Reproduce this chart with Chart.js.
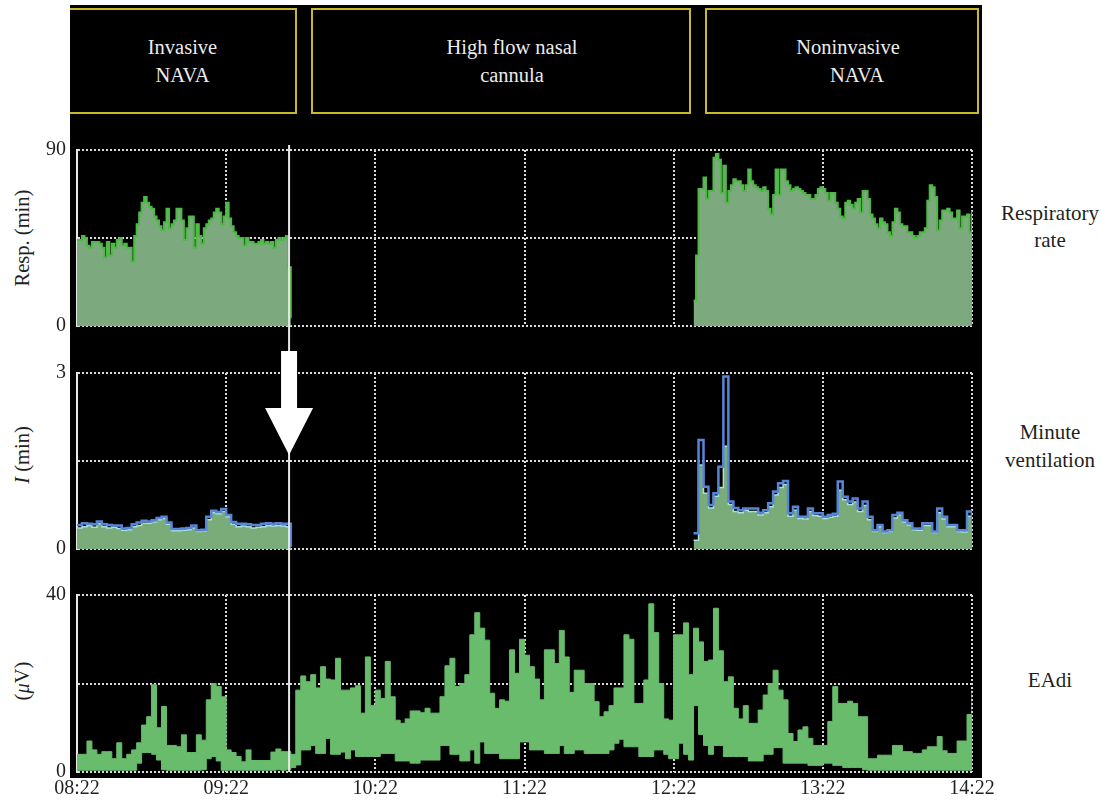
<!DOCTYPE html>
<html>
<head>
<meta charset="utf-8">
<script src="https://cdn.jsdelivr.net/npm/chart.js@4.4.1/dist/chart.umd.min.js"></script>
<style>
html,body{margin:0;padding:0;background:#fff;}
#wrap{position:relative;width:1102px;height:800px;overflow:hidden;font-family:'Liberation Serif','DejaVu Serif',serif;color:#231f20;}
#bg{position:absolute;left:70px;top:5px;width:912px;height:773px;background:#000;}
.box{position:absolute;top:8px;height:106px;box-sizing:border-box;border:2px solid #c9b829;color:#ececec;font-size:20.5px;line-height:28px;text-align:center;display:flex;flex-direction:column;justify-content:center;}
canvas{position:absolute;left:0;top:0;}
.side{position:absolute;font-size:21px;text-align:center;white-space:nowrap;transform:translate(-50%,-50%);}
.ytitle{position:absolute;font-size:20.5px;white-space:nowrap;transform:translate(-50%,-50%) rotate(-90deg);}
</style>
</head>
<body>
<div id="wrap">
  <div id="bg"></div>
  <div class="box" style="left:70px;width:227px;border-left:none;"><div>Invasive</div><div>NAVA</div></div>
  <div class="box" style="left:311px;width:380px;padding-left:22px;"><div>High flow nasal</div><div>cannula</div></div>
  <div class="box" style="left:705px;width:274px;padding-left:12px;"><div>Noninvasive</div><div style="padding-left:18px;">NAVA</div></div>

  <div class="ytitle" style="left:22px;top:238px;">Resp. (min)</div>
  <div class="ytitle" style="left:22px;top:455px;"><i>I</i> (min)</div>
  <div class="ytitle" style="left:22px;top:681px;">(<i>μ</i>V)</div>

  <div class="side" style="left:1050px;top:227px;line-height:27px;">Respiratory<br>rate</div>
  <div class="side" style="left:1050px;top:446px;line-height:28px;">Minute<br>ventilation</div>
  <div class="side" style="left:1050px;top:680px;">EAdi</div>

  <canvas id="c1" width="1102" height="800"></canvas>
  <canvas id="c2" width="1102" height="800"></canvas>
  <canvas id="c3" width="1102" height="800"></canvas>
</div>
<script>
// ---- time axis (minutes after 08:22) ----
const timeTickLabels = ['08:22','09:22','10:22','11:22','12:22','13:22','14:22'];
const extubationMin = 85.3;

// ---- Respiratory rate (1/min), 1-min samples ----
const rrInvStart = 0, rrInvStep = 1;
const rrInvasive = [44,44,46,45,41,40,43,43,43,42, 40,35,43,36,42,40,44,45,41,42,
  40,40,33,46,52,58,63,66,63,61, 60,56,54,51,49,53,60,50,52,54,
  60,60,54,44,50,56,56,40,52,46, 42,50,52,54,55,58,60,58,52,56,
  63,55,51,48,46,45,45,41,45,43, 43,42,42,43,44,42,43,42,43,40,
  44,45,44,45,46,30,4];
const rrNivStart = 248, rrNivStep = 1;
const rrNoninvasive = [13,36,70,70,76,65,69,69,86,88, 85,68,82,63,69,72,75,74,74,72,
  69,72,80,74,72,71,70,69,71,69, 60,57,67,80,67,80,80,74,72,69,
  70,71,70,69,68,67,67,65,65,67, 70,71,70,68,64,68,68,63,60,56,
  55,63,64,62,60,63,65,58,69,69, 65,57,55,52,50,55,53,52,48,46,
  53,60,58,52,51,51,48,48,46,45, 46,48,48,50,64,72,71,66,49,54,
  59,59,60,58,55,55,59,50,56,56, 57,48,59];

// ---- Minute ventilation (L/min), 2-min samples ----
const mvStep = 2;
const mvInvStart = 0;
const mvInvasiveBlue = [0.41,0.44,0.43,0.42,0.47,0.42,0.41,0.40,0.40,0.35,
  0.36,0.42,0.45,0.48,0.47,0.49,0.53,0.55,0.45,0.34,
  0.34,0.35,0.36,0.40,0.32,0.33,0.55,0.65,0.63,0.68,
  0.58,0.46,0.43,0.43,0.42,0.41,0.41,0.43,0.44,0.43,
  0.44,0.43,0.43,0.04];
const mvInvasiveCyan = [0.36,0.38,0.40,0.37,0.43,0.38,0.36,0.37,0.35,0.32,
  0.33,0.38,0.40,0.44,0.44,0.46,0.50,0.52,0.42,0.31,
  0.31,0.32,0.33,0.36,0.30,0.31,0.50,0.62,0.60,0.64,
  0.55,0.42,0.38,0.39,0.38,0.36,0.37,0.38,0.40,0.39,
  0.40,0.39,0.38,0.36];
const mvNivStart = 248;
const mvNoninvasiveBlue = [0.27,1.86,1.06,0.75,0.95,1.40,2.94,0.81,0.70,0.66,
  0.69,0.69,0.69,0.62,0.66,0.78,0.98,1.12,1.16,0.61,
  0.72,0.55,0.55,0.69,0.61,0.61,0.55,0.58,0.60,1.15,
  0.89,0.81,0.86,0.69,0.81,0.55,0.32,0.41,0.30,0.32,
  0.58,0.62,0.49,0.44,0.35,0.35,0.44,0.44,0.30,0.69,
  0.55,0.41,0.41,0.32,0.32,0.64,0.41];
const mvNoninvasiveCyan = [0.15,1.43,0.95,0.70,0.90,1.05,1.75,0.76,0.64,0.62,
  0.66,0.64,0.64,0.58,0.62,0.72,0.92,1.05,1.10,0.56,
  0.66,0.52,0.51,0.64,0.57,0.56,0.52,0.54,0.56,1.00,
  0.84,0.76,0.80,0.64,0.74,0.50,0.30,0.38,0.28,0.30,
  0.53,0.58,0.46,0.41,0.33,0.32,0.40,0.40,0.28,0.62,
  0.51,0.38,0.38,0.30,0.29,0.56,0.38];

// ---- EAdi (µV), 2-min max / min envelopes ----
const eadiStart = 0, eadiStep = 2;
const eadiUpper = [4,4,7,5,4,4.6,4.6,3,6.6,3,
  4,5,6.6,10.6,12.5,19.7,10,14.8,6,6,
  5.7,8.4,4.4,4.4,8.4,7.2,16.3,20,19.3,17,
  5,4.4,3.5,2.3,5,2.6,2.6,2.6,2.6,4.5,
  5.2,4.6,4.6,4,18.5,21.7,20.4,22,19,23.8,
  21,20.8,25.7,18.5,18.5,19,19.5,13.3,26,15,
  18.5,16.6,25,17,11.7,11,12,13.8,13.8,13.4,
  14.4,13.3,13.3,17,24,25.7,19.3,20,22,31,
  36,32.5,29.8,17.8,14.4,16.3,16,27.6,22.3,30,
  26.4,23.8,21,16.3,27.6,27.6,24.5,32,26,18,
  23,23,20,20,15.9,12.5,13.6,15,19,19,
  31,30,15.5,15.5,20.8,38,31.5,20,12,11.7,
  31,31,33.7,22,32.5,29.4,25,25.3,37,27.4,
  20.4,21.5,14.4,12,15,11,11,14,17.4,20,
  23,18.5,16.3,8.7,6.9,9.5,10.2,7.6,6,6,
  6,11.4,19.3,15.5,15.5,16,15.5,12.5,12.5,3,
  3,3.8,3.8,3.8,6,6,4.6,4.6,4.2,4.2,
  5,5.7,5.7,8,4.8,4.2,4.2,7,7,13,18.5];
const eadiLower = [0.4,0.4,0.4,0.4,0.4,0.4,0.4,0.4,0.4,0.4,
  0.4,0.4,2,4.4,4.4,4,2.7,0.5,0.4,0.4,
  0.4,0.4,0.4,0.4,0.4,0.5,3,3.5,2.5,0.4,
  0.4,0.4,0.4,0.4,0.4,0.4,0.4,0.4,0.4,0.4,
  0.5,0.4,0.5,1,1.6,5,5,6,4.2,4.2,
  7.6,4,4,4.5,3,5,3.5,3.5,3.5,3.5,
  3.5,4.2,4.2,4.2,2.5,2.5,2.5,2,2,2.7,
  2.7,2.7,2.7,6,6,4,4,2.5,2.5,5,
  2,6.8,4.2,4.2,4.2,3,3,3,3,6.8,
  6.8,5,5,5,4.2,4.2,4.2,6,4.2,4.2,
  5,5,4.2,4.2,4.2,4.2,4.2,5,6.5,7.4,
  5.7,5.7,5.7,3.5,3.5,3.5,5,5,4,3,
  3,6.5,4,2.7,15,8.5,6,4,6,6,
  3.5,3.5,3.5,3.5,3.5,2.5,2.5,2.5,4,4,
  5.5,5.5,2,2,2,2,2,1.5,1.5,1.5,
  2,2,1.5,1.5,1,1,1,1,0.5,0.4,
  0.4,0.4,0.4,0.4,0.4,0.4,0.4,0.4,0.4,0.4,
  0.4,0.4,0.4,0.4,0.4,0.4,0.4,0.4,0.4,0.4,0.4];

const toXY = (vals, start, step) => vals.map((v, i) => ({x: start + i * step, y: v}));

const FONT = {family: "'Liberation Serif','DejaVu Serif',serif", size: 20};
const TXT = '#231f20';
const GRID = '#dadada';

function makeOptions(yMax, yStep, top, bottom, showX) {
  const xH = showX ? 28 : 0;
  return {
    responsive: false, animation: false, maintainAspectRatio: false,
    layout: {padding: {left: 0, right: 130, top: top, bottom: 800 - bottom - xH}},
    plugins: {legend: {display: false}, tooltip: {enabled: false}},
    elements: {point: {radius: 0, hoverRadius: 0}},
    scales: {
      x: {
        type: 'linear', min: 0, max: 360,
        ticks: {display: showX, stepSize: 60, autoSkip: false, padding: 5, color: TXT, font: FONT,
                maxRotation: 0, callback: (v) => timeTickLabels[Math.round(v / 60)]},
        grid: {color: GRID, lineWidth: 2, drawTicks: false},
        border: {display: false, dash: [2, 2]},
        afterFit: (s) => { s.height = xH; }
      },
      y: {
        min: 0, max: yMax,
        ticks: {stepSize: yStep, padding: 11, color: TXT, font: FONT,
                callback: (v) => (v === 0 || v === yMax) ? String(v) : ''},
        grid: {color: GRID, lineWidth: 2, drawTicks: false},
        border: {display: true, color: '#e8e8e8', width: 2, dash: [2, 2]},
        afterFit: (s) => { s.width = 77; }
      }
    }
  };
}

// Respiratory rate
new Chart(document.getElementById('c1'), {
  type: 'line',
  data: {datasets: [
    {data: toXY(rrInvasive, rrInvStart, rrInvStep), stepped: true, borderColor: '#4dba45', borderWidth: 2,
     backgroundColor: 'rgb(124,169,126)', fill: 'origin'},
    {data: toXY(rrNoninvasive, rrNivStart, rrNivStep), stepped: true, borderColor: '#4dba45', borderWidth: 2,
     backgroundColor: 'rgb(124,169,126)', fill: 'origin'}
  ]},
  options: makeOptions(90, 45, 150, 326, false)
});

// Minute ventilation
new Chart(document.getElementById('c2'), {
  type: 'line',
  data: {datasets: [
    {data: toXY(mvInvasiveBlue, mvInvStart, mvStep), stepped: true, borderColor: '#5886d6', borderWidth: 2.5, fill: false},
    {data: toXY(mvNoninvasiveBlue, mvNivStart, mvStep), stepped: true, borderColor: '#5886d6', borderWidth: 2.5, fill: false},
    {data: toXY(mvInvasiveCyan, mvInvStart, mvStep), stepped: true, borderColor: '#a9dfe0', borderWidth: 1.5,
     backgroundColor: 'rgb(122,172,122)', fill: 'origin'},
    {data: toXY(mvNoninvasiveCyan, mvNivStart, mvStep), stepped: true, borderColor: '#a9dfe0', borderWidth: 1.5,
     backgroundColor: 'rgb(122,172,122)', fill: 'origin'}
  ]},
  options: makeOptions(3, 1.5, 373, 549, false)
});

// EAdi + extubation marker
const markerPlugin = {
  id: 'marker',
  afterDraw(chart) {
    const ctx = chart.ctx;
    const x = chart.scales.x.getPixelForValue(extubationMin);
    ctx.save();
    ctx.strokeStyle = '#e6e6e6';
    ctx.lineWidth = 2;
    ctx.beginPath();
    ctx.moveTo(x, 145);
    ctx.lineTo(x, chart.chartArea.bottom);
    ctx.stroke();
    ctx.fillStyle = '#ffffff';
    ctx.beginPath();
    ctx.moveTo(x - 8, 351);
    ctx.lineTo(x + 8, 351);
    ctx.lineTo(x + 8, 408);
    ctx.lineTo(x + 24, 408);
    ctx.lineTo(x, 455);
    ctx.lineTo(x - 24, 408);
    ctx.lineTo(x - 8, 408);
    ctx.closePath();
    ctx.fill();
    ctx.restore();
  }
};
new Chart(document.getElementById('c3'), {
  type: 'line',
  data: {datasets: [
    {data: toXY(eadiUpper, eadiStart, eadiStep), stepped: true, borderColor: 'rgb(104,188,108)', borderWidth: 1,
     backgroundColor: 'rgb(104,188,108)', fill: 1},
    {data: toXY(eadiLower, eadiStart, eadiStep), stepped: true, borderColor: 'rgb(104,188,108)', borderWidth: 1, fill: false}
  ]},
  options: makeOptions(40, 20, 595, 772, true),
  plugins: [markerPlugin]
});
</script>
</body>
</html>
